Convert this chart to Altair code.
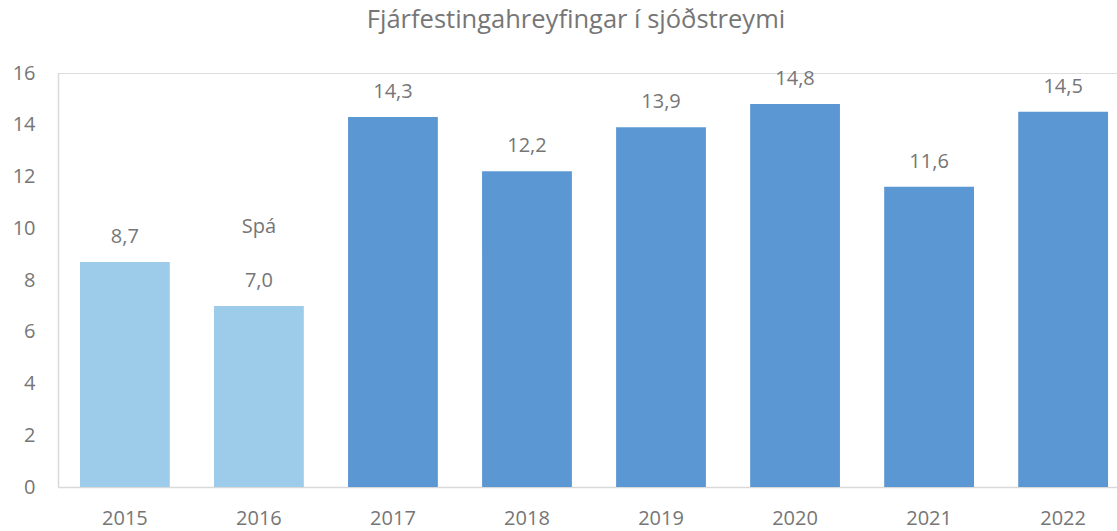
import altair as alt
import pandas as pd

years = ["2015", "2016", "2017", "2018", "2019", "2020", "2021", "2022"]
values = [8.7, 7.0, 14.3, 12.2, 13.9, 14.8, 11.6, 14.5]
groups = ["a", "a", "b", "b", "b", "b", "b", "b"]
value_labels = ["8,7", "7,0", "14,3", "12,2", "13,9", "14,8", "11,6", "14,5"]
notes = ["", "Spá", "", "", "", "", "", ""]
title_text = ["Fjárfestingahreyfingar í sjóðstreymi"]

df = pd.DataFrame({"year": years, "value": values, "group": groups,
                   "label": value_labels, "note": notes})

FONT = "Open Sans"
GRAY = "#767676"
FS = 20

x = alt.X("year:N", title=None, sort=years,
          scale=alt.Scale(paddingInner=0.33, paddingOuter=0.164),
          axis=alt.Axis(labelAngle=0, ticks=False, domainColor="#D9D9D9", domainWidth=1.5,
                        labelFont=FONT, labelFontSize=FS, labelColor=GRAY, labelPadding=21))
y = alt.Y("value:Q", title=None,
          scale=alt.Scale(domain=[0, 16]),
          axis=alt.Axis(values=list(range(0, 17, 2)), grid=False, ticks=False,
                        domainColor="#D9D9D9", domainWidth=1.5,
                        labelFont=FONT, labelFontSize=FS, labelColor=GRAY, labelPadding=23))

base = alt.Chart(df)

bars = base.mark_bar().encode(
    x=x, y=y,
    color=alt.Color("group:N", scale=alt.Scale(domain=["a", "b"], range=["#9DCBEA", "#5B97D3"]), legend=None),
)

text = base.mark_text(dy=-25, font=FONT, fontSize=FS, color=GRAY, baseline="middle").encode(
    x=x, y=y, text="label:N")

note = base.mark_text(dy=-79, font=FONT, fontSize=FS, color=GRAY, baseline="middle").encode(
    x=x, y=y, text="note:N")

title = alt.Chart(pd.DataFrame({"t": title_text})).mark_text(
    font=FONT, fontSize=25.5, color=GRAY, baseline="middle", align="center"
).encode(text="t:N", x=alt.value(518), y=alt.value(-53))

chart = (bars + text + note + title).properties(
    width=1072, height=414,
    autosize=alt.AutoSizeParams(type="none"),
    padding={"left": 58, "top": 73, "right": -13, "bottom": 44},
).configure_view(stroke=None).configure(background="white")

chart.save("out.html", embed_options={"renderer": "svg", "actions": False})
